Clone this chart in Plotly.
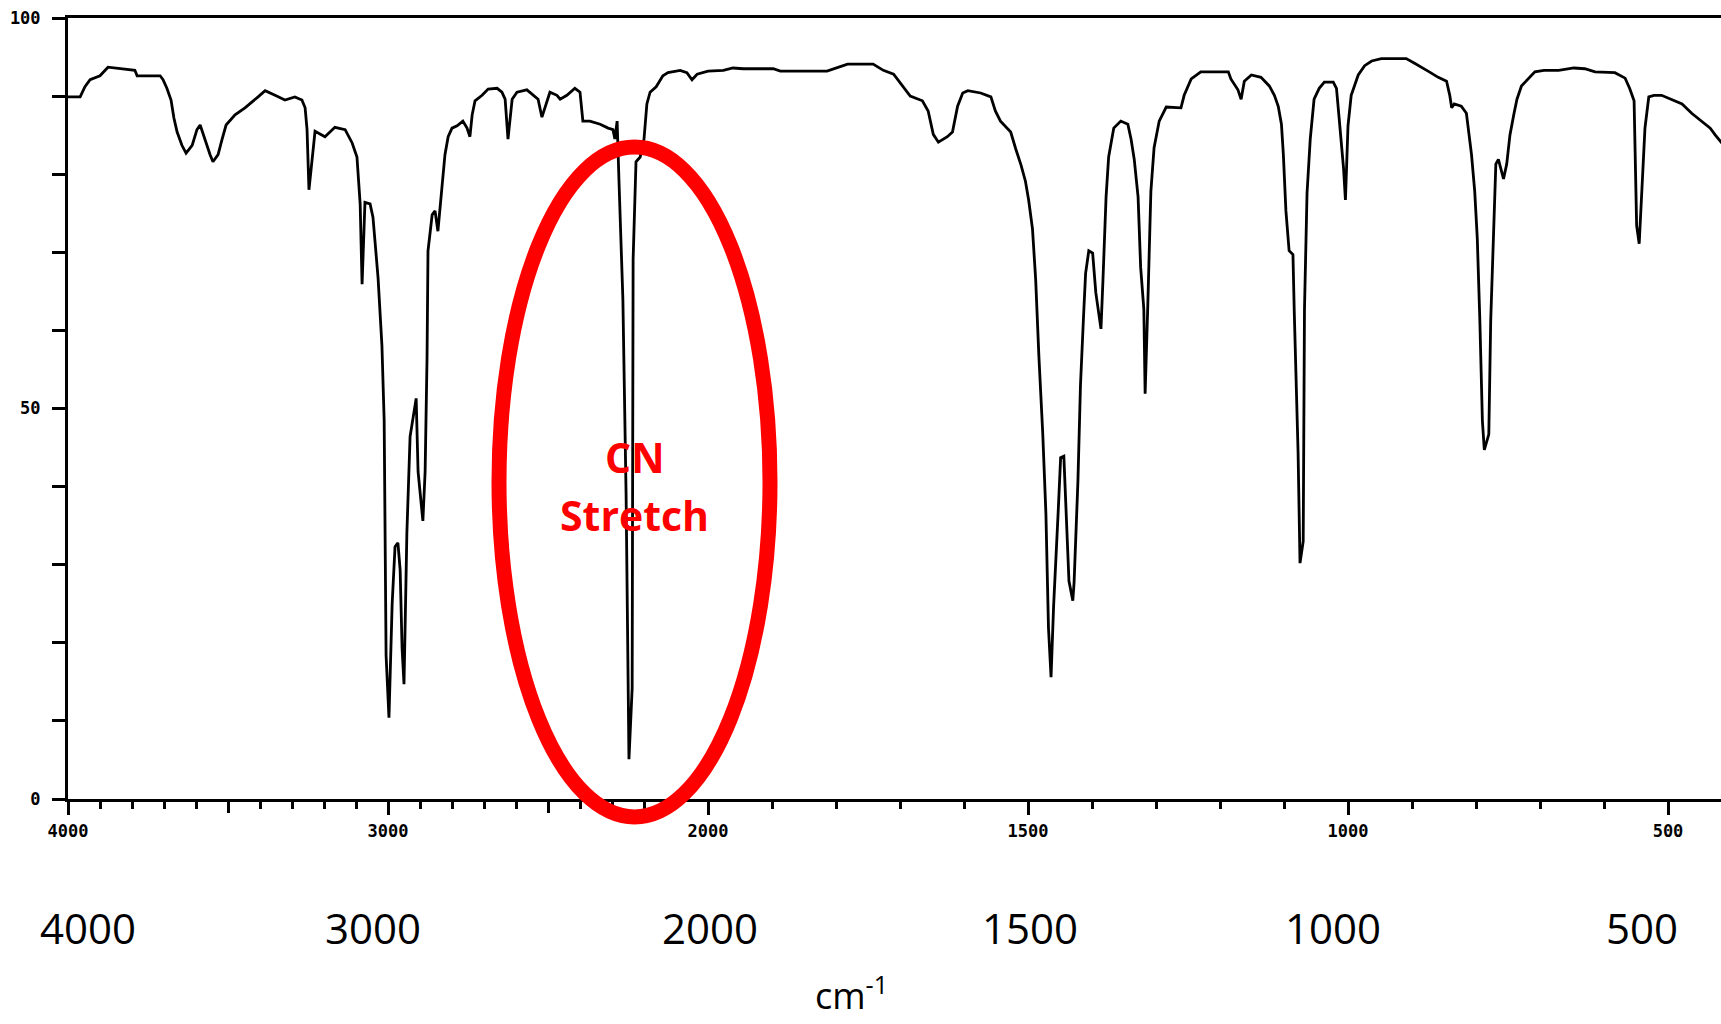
import plotly.graph_objects as go

# ---------------- data ----------------
wavenumber = [
    4000, 3962, 3947, 3931, 3900, 3875, 3791, 3784, 3712, 3703, 3691, 3678, 3669, 3659, 3644, 3631,
    3612, 3597, 3587, 3572, 3556, 3547, 3531, 3519, 3506, 3478, 3447, 3406, 3384, 3353, 3322, 3291,
    3269, 3259, 3253, 3247, 3237, 3228, 3197, 3166, 3134, 3112, 3097, 3087, 3081, 3072, 3056, 3047,
    3041, 3031, 3019, 3012, 3006, 2997, 2987, 2978, 2969, 2962, 2956, 2950, 2947, 2941, 2931, 2922,
    2912, 2906, 2891, 2884, 2878, 2875, 2862, 2853, 2844, 2831, 2822, 2812, 2800, 2784, 2766, 2753,
    2744, 2737, 2728, 2706, 2687, 2659, 2644, 2634, 2625, 2612, 2597, 2566, 2547, 2531, 2519, 2503,
    2494, 2472, 2462, 2441, 2416, 2400, 2391, 2369, 2337, 2312, 2297, 2291, 2284, 2278, 2266, 2256,
    2247, 2237, 2234, 2225, 2212, 2200, 2191, 2181, 2162, 2141, 2125, 2087, 2066, 2050, 2034, 2000,
    1976, 1961, 1945, 1898, 1887, 1814, 1798, 1782, 1742, 1726, 1710, 1696, 1684, 1665, 1656, 1648,
    1640, 1626, 1618, 1610, 1602, 1594, 1574, 1558, 1551, 1543, 1527, 1519, 1511, 1504, 1499, 1493,
    1488, 1483, 1477, 1472, 1468, 1464, 1460, 1453, 1449, 1444, 1441, 1436, 1430, 1428, 1422, 1418,
    1413, 1410, 1405, 1399, 1394, 1386, 1383, 1378, 1374, 1366, 1355, 1344, 1339, 1334, 1328, 1324,
    1319, 1317, 1313, 1308, 1303, 1295, 1284, 1261, 1256, 1245, 1230, 1187, 1183, 1172, 1167, 1162,
    1151, 1136, 1123, 1115, 1109, 1104, 1101, 1097, 1092, 1086, 1084, 1078, 1075, 1070, 1068, 1064,
    1059, 1053, 1045, 1037, 1023, 1018, 1014, 1007, 1004, 1000, 995, 984, 974, 963, 948, 909,
    896, 885, 873, 859, 846, 841, 838, 834, 823, 815, 812, 807, 802, 798, 794, 790,
    787, 780, 777, 772, 769, 765, 757, 752, 747, 741, 736, 729, 718, 708, 694, 671,
    647, 630, 614, 583, 567, 560, 553, 552, 549, 545, 541, 536, 530, 522, 510, 494,
    478, 463, 447, 434, 426, 415,
]
transmittance = [
    89.9, 89.9, 91.2, 92.1, 92.6, 93.7, 93.3, 92.6, 92.6, 92.1, 91.0, 89.5, 87.2, 85.4, 83.7, 82.7,
    83.7, 85.7, 86.3, 84.4, 82.5, 81.6, 82.5, 84.4, 86.3, 87.6, 88.5, 89.9, 90.7, 90.1, 89.5, 89.9,
    89.5, 88.5, 85.7, 78.0, 82.5, 85.5, 84.8, 86.0, 85.7, 84.0, 82.2, 76.2, 65.9, 76.4, 76.2, 74.5,
    71.6, 66.7, 58.1, 48.5, 18.4, 10.4, 25.0, 32.3, 32.8, 29.3, 19.3, 14.7, 21.0, 34.1, 46.4, 48.8,
    51.3, 41.9, 35.6, 41.9, 56.5, 70.2, 74.8, 75.3, 72.7, 78.5, 82.5, 84.8, 85.9, 86.2, 86.8, 85.9,
    84.8, 87.6, 89.4, 90.1, 90.9, 91.0, 90.5, 89.6, 84.5, 89.6, 90.5, 90.8, 90.1, 89.6, 87.3, 89.4,
    90.5, 90.1, 89.6, 90.1, 91.0, 90.5, 86.8, 86.8, 86.4, 85.9, 85.7, 84.5, 86.8, 78.9, 64.0, 39.1,
    5.1, 14.2, 69.1, 81.6, 82.2, 84.5, 89.0, 90.5, 91.2, 92.6, 93.0, 93.3, 93.0, 92.1, 92.8, 93.2,
    93.3, 93.6, 93.5, 93.5, 93.2, 93.2, 93.6, 94.1, 94.1, 93.3, 92.8, 91.3, 90.0, 89.4, 88.1, 85.1,
    84.1, 84.8, 85.4, 88.7, 90.4, 90.7, 90.4, 89.9, 88.1, 86.8, 85.4, 83.2, 81.2, 79.1, 76.7, 73.0,
    66.5, 56.7, 46.9, 36.5, 21.9, 15.6, 24.7, 36.5, 43.7, 43.9, 37.3, 27.9, 25.4, 27.7, 40.7, 53.0,
    62.2, 67.3, 70.2, 69.9, 64.8, 60.2, 66.2, 77.1, 82.2, 85.9, 86.8, 86.4, 84.5, 81.9, 77.1, 68.1,
    62.7, 51.9, 62.7, 77.8, 83.4, 86.8, 88.6, 88.5, 90.1, 92.2, 93.1, 93.1, 92.2, 90.8, 89.6, 91.9,
    92.7, 92.4, 91.3, 90.1, 88.7, 86.4, 82.5, 75.3, 70.2, 69.7, 62.5, 44.4, 30.2, 33.0, 62.7, 77.6,
    84.5, 89.6, 91.0, 91.8, 91.8, 91.0, 87.3, 80.8, 76.7, 86.2, 90.1, 92.7, 93.9, 94.5, 94.8, 94.8,
    94.2, 93.7, 93.1, 92.4, 91.9, 90.1, 88.5, 89.0, 88.7, 87.8, 85.9, 82.5, 77.8, 71.8, 61.3, 48.4,
    44.7, 46.7, 61.3, 75.7, 81.3, 81.9, 79.4, 81.3, 85.0, 87.6, 89.6, 91.3, 92.3, 93.1, 93.3, 93.3,
    93.6, 93.5, 93.1, 93.0, 92.3, 91.0, 89.4, 84.8, 73.4, 71.1, 77.6, 85.9, 89.9, 90.1, 90.1, 89.5,
    89.0, 87.8, 86.8, 85.9, 85.0, 83.9,
]

labeled_tick_wn = [4000, 3000, 2000, 1500, 1000, 500]
labeled_tick_text = ["4000", "3000", "2000", "1500", "1000", "500"]
unlabeled_major_wn = [3500, 2500]
minor_tick_wn = [3900, 3800, 3700, 3600, 3400, 3300, 3200, 3100, 2900, 2800, 2700, 2600,
                 2400, 2300, 2200, 2100, 1900, 1800, 1700, 1600, 1400, 1300, 1200, 1100,
                 900, 800, 700, 600]
y_tick_vals = [0, 10, 20, 30, 40, 50, 60, 70, 80, 90, 100]
y_label_vals = [0, 50, 100]
y_label_text = ["0", "50", "100"]

big_labels = ["4000", "3000", "2000", "1500", "1000", "500"]
annotation_title = ["CN", "Stretch"]
unit_label = "cm<sup>-1</sup>"


# IR spectra use a scale change at 2000 cm-1 (half the compression below 2000)
def to_pos(wn):
    return (4000 - wn) / 1000 if wn >= 2000 else 2 + (2000 - wn) / 500


x_pos = [to_pos(w) for w in wavenumber]

# ---------------- layout geometry (pixels of the 1721x1024 page) ----------------
W, H = 1721, 1024
L, R, T, B = 68, 0, 18, 225
PW, PH = W - L - R, H - T - B
X_RANGE = [0, PW / 320.0]


def px(x):
    return (x - L) / PW


def py(y):
    return (H - B - y) / PH


fig = go.Figure()
fig.add_trace(go.Scatter(
    x=x_pos, y=transmittance, mode="lines",
    line=dict(color="black", width=2.8), hoverinfo="skip", showlegend=False,
))
# invisible companion trace so the overlay axes (extra ticks / labels) are drawn
fig.add_trace(go.Scatter(
    x=x_pos[:1], y=transmittance[:1], xaxis="x2", yaxis="y2", mode="markers",
    marker=dict(opacity=0), hoverinfo="skip", showlegend=False,
))

pix_font = dict(family="DejaVu Sans Mono", size=17, color="black", weight="bold")

fig.update_layout(
    width=W, height=H,
    margin=dict(l=L, r=R, t=T, b=B, pad=0),
    plot_bgcolor="white", paper_bgcolor="white",
    showlegend=False,
    xaxis=dict(
        range=X_RANGE, autorange=False,
        tickmode="array", tickvals=[to_pos(w) for w in labeled_tick_wn], ticktext=labeled_tick_text,
        ticks="outside", ticklen=13, tickwidth=3, tickcolor="black",
        showline=True, linewidth=3, linecolor="black", mirror=True,
        showgrid=False, zeroline=False, tickfont=pix_font, ticklabelstandoff=2,
        minor=dict(tickmode="array", tickvals=[to_pos(w) for w in minor_tick_wn],
                   ticks="outside", ticklen=7, tickwidth=3, tickcolor="black", showgrid=False),
    ),
    xaxis2=dict(
        overlaying="x", anchor="y", side="bottom",
        range=X_RANGE, autorange=False,
        tickmode="array", tickvals=[to_pos(w) for w in unlabeled_major_wn],
        ticks="outside", ticklen=13, tickwidth=3, tickcolor="black",
        showticklabels=False, showline=False, showgrid=False, zeroline=False,
    ),
    yaxis=dict(
        range=[0, 100], autorange=False,
        tickmode="array", tickvals=y_tick_vals, showticklabels=False,
        ticks="outside", ticklen=13, tickwidth=3, tickcolor="black",
        showline=True, linewidth=3, linecolor="black",
        showgrid=False, zeroline=False,
    ),
    yaxis2=dict(
        overlaying="y", anchor="x", side="left",
        range=[0, 100], autorange=False,
        tickmode="array", tickvals=y_label_vals, ticktext=y_label_text,
        ticks="outside", ticklen=13, tickwidth=3, tickcolor="black",
        showline=False, showgrid=False, zeroline=False,
        tickfont=pix_font, ticklabelstandoff=10,
    ),
)

# red ellipse around the CN stretch
fig.add_shape(type="circle", xref="paper", yref="paper",
              x0=px(499), x1=px(770), y0=py(817), y1=py(147),
              line=dict(color="#ff0000", width=15), layer="above")

# CN Stretch label
fig.add_annotation(text=annotation_title[0], xref="paper", yref="paper",
                   x=px(634), y=py(457), xanchor="center", yanchor="middle", showarrow=False,
                   font=dict(family="Open Sans", size=41, color="#ff0000", weight="bold"))
fig.add_annotation(text=annotation_title[1], xref="paper", yref="paper",
                   x=px(634), y=py(515), xanchor="center", yanchor="middle", showarrow=False,
                   font=dict(family="Open Sans", size=41, color="#ff0000", weight="bold"))

# large hand-placed axis labels below the chart
big_label_px = [88, 373, 710, 1030, 1333, 1642]
for lab, xp in zip(big_labels, big_label_px):
    fig.add_annotation(text=lab, xref="paper", yref="paper", x=px(xp), y=py(927),
                       xanchor="center", yanchor="middle", showarrow=False,
                       font=dict(family="Open Sans", size=42, color="black"))

fig.add_annotation(text=unit_label, xref="paper", yref="paper", x=px(851), y=py(1022),
                   xanchor="center", yanchor="bottom", showarrow=False,
                   font=dict(family="Open Sans", size=36, color="black"))

fig.write_html("out.html", config={"displayModeBar": False},
               post_script="document.body.style.margin='0';document.body.style.overflow='hidden';")
